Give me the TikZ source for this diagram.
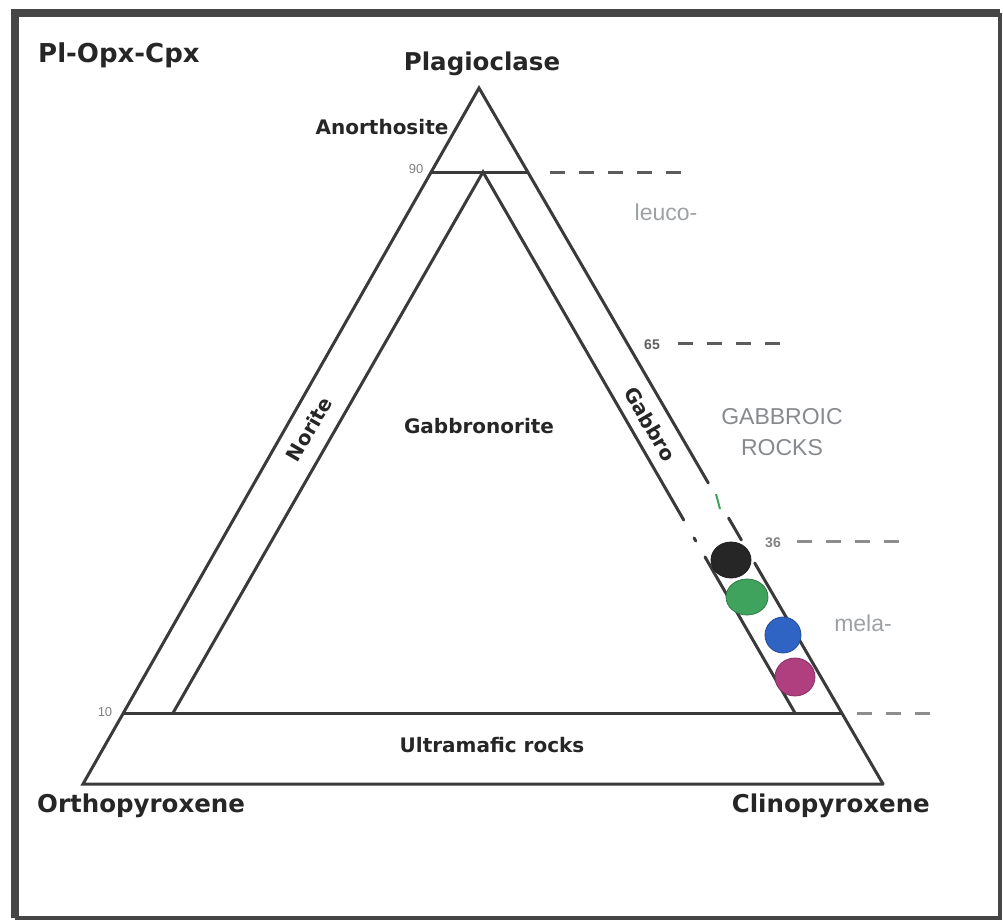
\documentclass[tikz,border=0pt]{standalone}
\usepackage{fontspec}
\setmainfont{DejaVu Sans}
\newfontfamily\plainsans{Liberation Sans}
\usetikzlibrary{calc}
\definecolor{edgegray}{HTML}{3a3a3a}
\definecolor{framegray}{HTML}{464646}
\definecolor{labelgray}{HTML}{868a8e}
\definecolor{dashgray}{HTML}{5c5c5c}
\definecolor{dotblack}{HTML}{262626}
\definecolor{dotgreen}{HTML}{3fa35e}
\definecolor{dotblue}{HTML}{2f63c4}
\definecolor{dotpink}{HTML}{b03f80}

\begin{document}
\begin{tikzpicture}[x=1pt, y=-1pt,
  edge/.style={draw=edgegray, line width=3pt, line cap=round},
  guide/.style={draw=dashgray, line width=3pt, dash pattern=on 15pt off 14pt},
  endmember/.style={font=\bfseries\fontsize{24.5}{28}\selectfont, text=black!85, inner sep=0},
  field/.style={font=\bfseries\fontsize{20}{24}\selectfont, text=black!85, inner sep=0},
  tick/.style={font=\plainsans\fontsize{13}{15}\selectfont, text=gray, inner sep=0},
  series/.style={font=\plainsans\fontsize{23}{27}\selectfont, text=labelgray, inner sep=0},
  sample/.style={draw=#1!75!black, fill=#1, line width=0.8pt}
]
\useasboundingbox (0,0) rectangle (1003,921);

% Frame
\draw[framegray, line width=8pt] (15,918) -- (15,12.5) -- (999.5,12.5);
\draw[framegray, line width=4pt] (999.5,12.5) -- (999.5,918) -- (15,918);

% Corners of the ternary
\coordinate (Pl) at (479,88);
\coordinate (Opx) at (83,784);
\coordinate (Cpx) at (883,784);
\coordinate (n90L) at ($(Pl)!0.1207!(Opx)$);
\coordinate (n90R) at ($(Pl)!0.1207!(Cpx)$);
\coordinate (n10L) at ($(Pl)!0.898!(Opx)$);
\coordinate (n10R) at ($(Pl)!0.898!(Cpx)$);

% Inner field
\coordinate (top) at (483,172);
\coordinate (norL) at (173,713);
\coordinate (gabR) at (795,713);

% Outer triangle (right side broken near the samples)
\draw[edge] (Cpx) -- (Opx) -- (Pl) -- ($(Pl)!0.5675!(Cpx)$);
\draw[edge] ($(Pl)!0.6178!(Cpx)$) -- ($(Pl)!0.6494!(Cpx)$);
\draw[edge] ($(Pl)!0.6825!(Cpx)$) -- (Cpx);
\draw[dotgreen, line width=2pt] (716,494) -- (720,509);

% 90 and 10 lines
\draw[edge] (n90L) -- (n90R);
\draw[edge] (n10L) -- (n10R);

% Norite and Gabbro bands
\draw[edge] (norL) -- (top) -- ($(top)!0.6433!(gabR)$);
\draw[edge] ($(top)!0.6765!(gabR)$) -- ($(top)!0.682!(gabR)$);
\draw[edge] ($(top)!0.7116!(gabR)$) -- (gabR);

% Dashed guides
\coordinate (g90) at (550,172);  \coordinate (g90e) at (684,172);
\coordinate (g65) at (678,343);  \coordinate (g65e) at (785,343);
\coordinate (g36) at (797,541);  \coordinate (g36e) at (905,541);
\coordinate (g10) at (857,713);  \coordinate (g10e) at (932,713);
\draw[guide] (g90) -- (g90e);
\draw[guide] (g65) -- (g65e);
\draw[guide, dashgray!70] (g36) -- (g36e);
\draw[guide, dashgray!70] (g10) -- (g10e);

% Samples
\fill[sample=dotblack] (731,560) ellipse [x radius=20, y radius=18];
\fill[sample=dotgreen] (747,597) ellipse [x radius=21, y radius=18];
\fill[sample=dotblue] (783,635) ellipse [x radius=18, y radius=18];
\fill[sample=dotpink] (795,677) ellipse [x radius=20, y radius=19];

% Labels
\node[endmember, anchor=base west, font=\bfseries\fontsize{26}{30}\selectfont] (title) at (38,62) {Pl-Opx-Cpx};
\node[endmember, anchor=base] (plag) at (482,70) {Plagioclase};
\node[endmember, anchor=base west] (opx) at (37,812) {Orthopyroxene};
\node[endmember, anchor=base east] (cpx) at (930,812) {Clinopyroxene};

\node[field] (anor) at (382,127) {Anorthosite};
\node[field] (gbn) at (479,426) {Gabbronorite};
\node[field] (umr) at (492,745) {Ultramafic rocks};
\node[field, rotate=60] (nor) at (309,429) {Norite};
\node[field, rotate=-60] (gab) at (650,424) {Gabbro};

\node[tick] (t90) at (416,169) {90};
\node[tick] (t10) at (105,712) {10};
\node[tick, font=\bfseries\plainsans\fontsize{14}{16}\selectfont, text=dashgray] (t65) at (652,345) {65};
\node[tick, font=\bfseries\plainsans\fontsize{14}{16}\selectfont] (t36) at (773,543) {36};

\node[series, text=labelgray!80] (leuco) at (666,212) {leuco-};
\node[series] (gr1) at (782,417) {GABBROIC};
\node[series] (gr2) at (782,448) {ROCKS};
\node[series, text=labelgray!80] (mela) at (863,623) {mela-};

\end{tikzpicture}
\end{document}
